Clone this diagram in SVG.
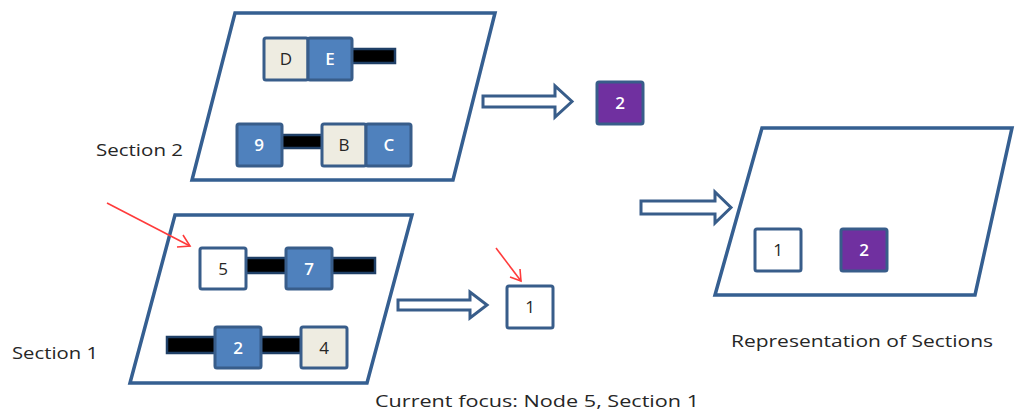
<svg xmlns="http://www.w3.org/2000/svg" width="1015" height="420" viewBox="0 0 1015 420">
  <style>
    .sec { fill: #fff; stroke: #355F91; stroke-width: 3.5; stroke-linejoin: miter; }
    .box { stroke: #385D8A; stroke-width: 3; }
    .blue { fill: #4F81BD; }
    .beige { fill: #EEECE1; }
    .white { fill: #fff; }
    .purple { fill: #7030A0; }
    .bar { fill: #000; stroke: #1F3F66; stroke-width: 2.5; }
    .blk { fill: #fff; stroke: #385D8A; stroke-width: 3; stroke-linejoin: miter; }
    .red { fill: none; stroke: #FF3B3B; stroke-width: 1.6; }
    .t { font-family: "Open Sans", "Liberation Sans", sans-serif; font-size: 17px; text-anchor: middle; }
    .tl { fill: #fff; font-weight: 600; }
    .td { fill: #262626; }
    .lbl { font-family: "Open Sans", "Liberation Sans", sans-serif; font-size: 17px; fill: #262626; }
  </style>

  <!-- section frames -->
  <g id="section2-frame"><polygon class="sec" points="235,13 495,13 453,180 192,180"/></g>
  <g id="section1-frame"><polygon class="sec" points="175,215 412,215 367,383 130,383"/></g>
  <g id="representation-frame"><polygon class="sec" points="762,128 1012,128 975,295 715,295"/></g>

  <!-- connectors: edges inside sections, block arrows, focus pointers -->
  <g id="connectors">
    <rect class="bar" x="350" y="49" width="45" height="14"/>
    <rect class="bar" x="280" y="135" width="44" height="13"/>
    <rect class="bar" x="244" y="258" width="43" height="15"/>
    <rect class="bar" x="330" y="258" width="45" height="15"/>
    <rect class="bar" x="167" y="337" width="50" height="16"/>
    <rect class="bar" x="259" y="337" width="43" height="16"/>

    <polygon class="blk" points="483,96 555,96 555,86 572,101.5 555,117 555,107 483,107"/>
    <polygon class="blk" points="398,300 470,300 470,292 487,305 470,318 470,310 398,310"/>
    <polygon class="blk" points="641,201 715,201 715,192 731,207.5 715,223 715,214 641,214"/>

    <line class="red" x1="107" y1="203" x2="190" y2="246"/>
    <polyline class="red" points="177,247 190,246 183,235"/>
    <line class="red" x1="496" y1="248" x2="521" y2="281"/>
    <polyline class="red" points="510,277 521,281 520,269"/>
  </g>

  <!-- section 2 nodes -->
  <g id="node-D"><rect class="box beige" x="264" y="38" width="44" height="42" rx="2"/><text class="t td" x="286" y="65">D</text></g>
  <g id="node-E"><rect class="box blue" x="308" y="38" width="44" height="42" rx="2"/><text class="t tl" x="330" y="65">E</text></g>
  <g id="node-9"><rect class="box blue" x="237" y="124" width="45" height="42" rx="2"/><text class="t tl" x="259" y="151">9</text></g>
  <g id="node-B"><rect class="box beige" x="322" y="124" width="44" height="42" rx="2"/><text class="t td" x="344" y="151">B</text></g>
  <g id="node-C"><rect class="box blue" x="366" y="124" width="45" height="42" rx="2"/><text class="t tl" x="389" y="151">C</text></g>

  <!-- section 1 nodes -->
  <g id="node-5"><rect class="box white" x="200" y="248" width="46" height="41" rx="2"/><text class="t td" x="223" y="275">5</text></g>
  <g id="node-7"><rect class="box blue" x="286" y="248" width="46" height="41" rx="2"/><text class="t tl" x="309" y="275">7</text></g>
  <g id="node-2a"><rect class="box blue" x="215" y="327" width="46" height="41" rx="2"/><text class="t tl" x="238" y="354">2</text></g>
  <g id="node-4"><rect class="box beige" x="301" y="327" width="46" height="41" rx="2"/><text class="t td" x="324" y="354">4</text></g>

  <!-- section representatives -->
  <g id="rep-2"><rect class="box purple" x="597" y="82" width="46" height="42" rx="2"/><text class="t tl" x="620" y="109">2</text></g>
  <g id="rep-1"><rect class="box white" x="507" y="286" width="46" height="42" rx="2"/><text class="t td" x="530" y="313">1</text></g>

  <!-- representation of sections -->
  <g id="repr-1"><rect class="box white" x="755" y="229" width="46" height="42" rx="2"/><text class="t td" x="778" y="256">1</text></g>
  <g id="repr-2"><rect class="box purple" x="841" y="229" width="46" height="42" rx="2"/><text class="t tl" x="864" y="256">2</text></g>

  <!-- labels -->
  <g id="labels">
    <text class="lbl" x="96" y="156" textLength="87" lengthAdjust="spacingAndGlyphs">Section 2</text>
    <text class="lbl" x="12" y="359" textLength="86" lengthAdjust="spacingAndGlyphs">Section 1</text>
    <text class="lbl" x="731" y="347" textLength="262" lengthAdjust="spacingAndGlyphs">Representation of Sections</text>
    <text class="lbl" x="375" y="407" textLength="324" lengthAdjust="spacingAndGlyphs">Current focus: Node 5, Section 1</text>
  </g>
</svg>
